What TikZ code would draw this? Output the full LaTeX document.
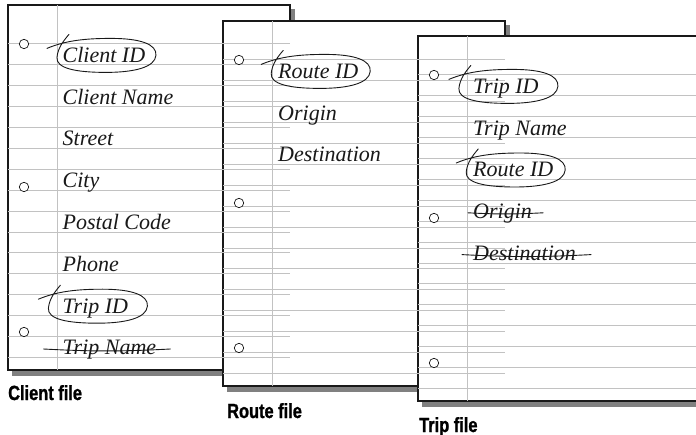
\documentclass[tikz,border=0pt]{standalone}
\usepackage{fontspec}
\setmainfont{Liberation Serif}
\newfontfamily\notefont{Liberation Serif}
\newfontfamily\tagfont[FakeStretch=0.8, BoldFeatures={FakeBold=1.2}]{Liberation Sans}
\usetikzlibrary{calc}

\definecolor{rulegray}{gray}{0.76}
\definecolor{shadowgray}{gray}{0.5}
\definecolor{ink}{gray}{0.1}

\tikzset{
  page/.style={fill=white, draw=ink, line width=1.2pt},
  pageshadow/.style={fill=shadowgray},
  rule/.style={draw=rulegray, line width=1pt},
  hole/.style={draw=ink, fill=white, line width=0.7pt},
  field/.style={anchor=base west, inner sep=0pt, text=ink,
    font=\notefont\itshape\fontsize{22}{26}\selectfont},
  filetag/.style={anchor=base west, inner sep=0pt,
    font=\tagfont\bfseries\fontsize{20.5}{24}\selectfont},
  pen/.style={draw=ink, line width=0.9pt, line cap=round},
}

% hand-drawn loop round a key field
\newcommand{\idloop}[1]{%
  \begin{scope}[shift={($(#1.base)+(2,-7)$)}]
    \draw[pen] (-59,-7) .. controls (-40,-15) and (-20,-17) .. (5,-17)
      .. controls (35,-17) and (51,-11) .. (50,0)
      .. controls (49,12) and (28,17) .. (0,17)
      .. controls (-30,17) and (-50,13) .. (-49,2)
      .. controls (-48,-8) and (-42,-15) .. (-37,-21);
  \end{scope}}

% stroke through a field that is dropped
\newcommand{\strikeout}[3]{%
  \draw[pen] ($(#1.base west)+(-#2,-6)$) to[bend right=3] ($(#1.base east)+(#3,-6)$);}

\begin{document}
\begin{tikzpicture}[x=1pt, y=-1pt]
  \useasboundingbox (0,0) rectangle (696,435);
  \clip (0,0) rectangle (696,435);

  %----- SHEETS: CLIENT, ROUTE, TRIP -----
  \foreach \px/\py/\pw in {8/5/282, 223/21/282, 418/36/300} {
    \fill[pageshadow] (\px+4,\py+4) rectangle (\px+\pw+5,\py+371);
    \draw[page] (\px,\py) rectangle (\px+\pw,\py+365);
  }

  %----- RULED LINES, MARGINS, HOLES (lines show through the sheets) -----
  \foreach \px/\py/\pw in {8/5/282, 223/21/282, 418/36/300} {
    \foreach \k in {0,...,15}
      \draw[rule] (\px,\py+39+20.9*\k) -- ++(\pw,0);
    \draw[rule] (\px+49,\py) -- ++(0,365);
    \foreach \hy in {39,182,327}
      \draw[hole] (\px+16,\py+\hy) circle (4.7pt);
  }

  %----- CLIENT FILE -----
  \node[field] (cid)     at (62.5,62.4)  {Client ID};
  \node[field] (cname)   at (62.5,104.2) {Client Name};
  \node[field] (street)  at (62.5,146)   {Street};
  \node[field] (city)    at (62.5,187.8) {City};
  \node[field] (postal)  at (62.5,229.6) {Postal Code};
  \node[field] (phone)   at (62.5,271.4) {Phone};
  \node[field] (ctrip)   at (62.5,313.2) {Trip ID};
  \node[field] (ctname)  at (62.5,355)   {Trip Name};

  %----- ROUTE FILE -----
  \node[field] (rid)     at (278,78.4)   {Route ID};
  \node[field] (rorigin) at (278,120.2)  {Origin};
  \node[field] (rdest)   at (278,162)    {Destination};

  %----- TRIP FILE -----
  \node[field] (tid)     at (473,93.4)   {Trip ID};
  \node[field] (tname)   at (473,135.2)  {Trip Name};
  \node[field] (troute)  at (473,177)    {Route ID};
  \node[field] (torigin) at (473,218.8)  {Origin};
  \node[field] (tdest)   at (473,260.6)  {Destination};

  %----- PEN MARKS -----
  \idloop{cid}
  \idloop{ctrip}
  \idloop{rid}
  \idloop{tid}
  \idloop{troute}
  \strikeout{ctname}{19}{14}
  \strikeout{torigin}{5}{11}
  \strikeout{tdest}{11}{15}

  %----- CAPTIONS -----
  \node[filetag] (clienttag) at (8,400)  {Client file};
  \node[filetag] (routetag)  at (227,418) {Route file};
  \node[filetag] (triptag)   at (419,432) {Trip file};

\end{tikzpicture}
\end{document}
